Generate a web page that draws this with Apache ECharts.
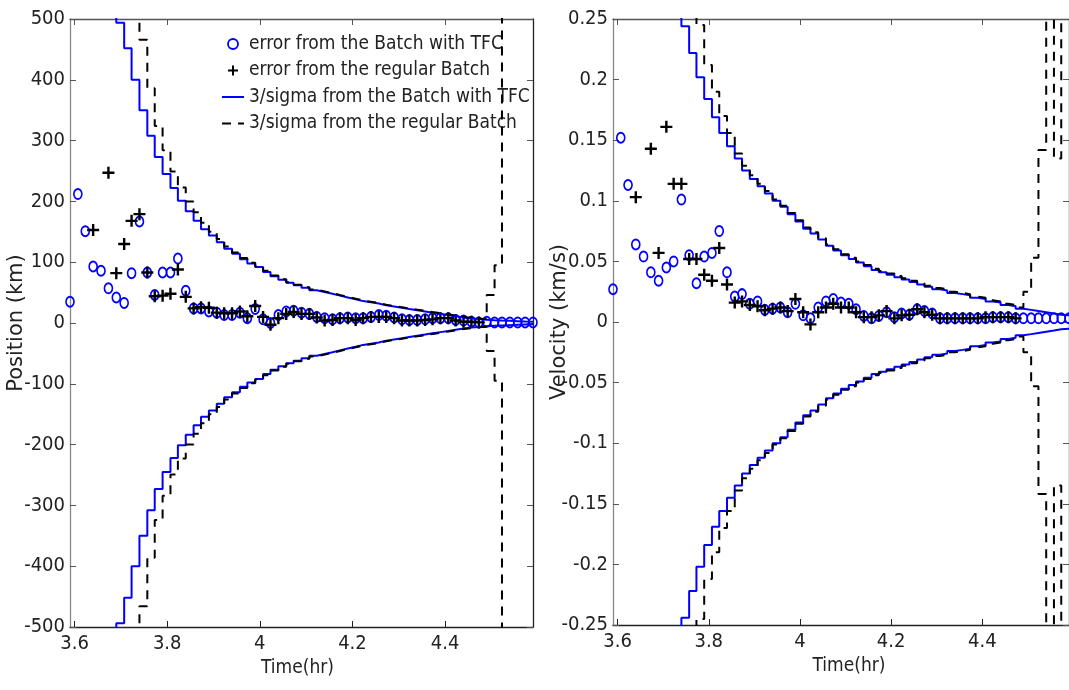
<!DOCTYPE html>
<html><head><meta charset="utf-8">
<script src="https://cdn.jsdelivr.net/npm/echarts@6/dist/echarts.min.js"></script>
<style>html,body{margin:0;padding:0;background:#fff}#c{width:1069px;height:690px}</style>
</head><body><div id="c"></div><script>
// Time (hr), one sample per minute
const time = [3.590,3.607,3.623,3.640,3.657,3.673,3.690,3.707,3.723,3.740,
  3.757,3.773,3.790,3.807,3.823,3.840,3.857,3.873,3.890,3.907,
  3.923,3.940,3.957,3.973,3.990,4.007,4.023,4.040,4.057,4.073,
  4.090,4.107,4.123,4.140,4.157,4.173,4.190,4.207,4.223,4.240,
  4.257,4.273,4.290,4.307,4.323,4.340,4.357,4.373,4.390,4.407,
  4.423,4.440,4.457,4.473,4.490,4.507,4.523,4.540,4.557,4.573,4.590];
const xTicks = [3.6, 3.8, 4.0, 4.2, 4.4];

// Position (km)
const posTFCErr = [35,212,151,93,86,57,42,33,82,167,
  83,46,83,83,106,53,24,24,19,17,
  13,13,17,8,23,6,0,13,19,20,
  17,15,10,8,6,8,9,8,8,10,
  13,12,9,6,5,5,6,8,8,8,
  5,4,2,1,2,1,1,1,1,1,1];
const posRegErr = [null,null,null,153,null,247,82,130,168,179,
  83,44,45,48,88,43,24,26,25,17,
  16,16,19,11,28,10,-3,8,15,18,
  15,15,9,4,5,8,8,5,8,10,
  10,10,8,4,4,4,5,6,8,8,
  4,2,2,1,null,null,null,null,null,null,null];
const posTFCSigma = [null,null,null,null,null,560,494,452,400,350,
  308,273,245,222,201,184,168,154,144,133,
  122,114,105,98,92,84,77,71,66,62,
  58,54,51,48,45,42,39,36,34,32,
  29,27,25,23,21,19,17,15,13,11,
  9,7.5,6.5,5.5,4.5,4,3.5,3,2.5,2.2,2];
const posRegSigma = [null,null,null,null,null,null,null,null,560,466,
  386,324,284,249,223,200,182,165,150,138,
  126,116,107,99,93,86,78,72,67,63,
  59,55,52,49,46,43,40,37,35,33,
  30,28,26,24,22,20,18,16,14,12,
  10,8.5,7,6,46,95,700,700,700,700,700];

// Velocity (km/s)
const velTFCErr = [0.027,0.152,0.113,0.064,0.054,0.041,0.034,0.045,0.050,0.101,
  0.055,0.032,0.054,0.057,0.075,0.041,0.021,0.023,0.015,0.017,
  0.010,0.011,0.012,0.008,0.015,0.0055,0.003,0.012,0.017,0.019,
  0.016,0.015,0.0105,0.005,0.003,0.005,0.008,0.004,0.007,0.006,
  0.0105,0.009,0.007,0.003,0.003,0.003,0.003,0.003,0.003,0.003,
  0.004,0.004,0.004,0.003,0.003,0.003,0.003,0.003,0.003,0.003,0.003];
const velRegErr = [null,null,null,0.103,null,0.143,0.057,0.161,0.114,0.114,
  0.052,0.052,0.039,0.034,0.061,0.031,0.016,0.017,0.014,0.013,
  0.0097,0.011,0.012,0.009,0.019,0.008,-0.002,0.008,0.012,0.015,
  0.012,0.012,0.008,0.004,0.004,0.0055,0.009,0.003,0.0055,0.006,
  0.0105,0.008,0.006,0.003,0.003,0.003,0.003,0.003,0.003,0.004,
  0.004,0.004,0.004,0.003,null,null,null,null,null,null,null];
const velTFCSigma = [null,null,null,null,null,null,null,null,0.27,0.244,
  0.222,0.202,0.184,0.169,0.156,0.145,0.135,0.125,0.118,0.112,
  0.106,0.100,0.095,0.089,0.083,0.077,0.073,0.068,0.063,0.059,
  0.055,0.052,0.049,0.046,0.043,0.041,0.039,0.037,0.035,0.033,
  0.031,0.029,0.027,0.026,0.024,0.023,0.022,0.020,0.019,0.017,
  0.016,0.014,0.013,0.011,0.010,0.009,0.008,0.007,0.006,0.0055,0.005];
const velRegSigma = [null,null,null,null,null,null,null,null,null,null,
  0.30,0.245,0.212,0.190,0.170,0.156,0.139,0.129,0.121,0.114,
  0.108,0.101,0.096,0.090,0.084,0.078,0.074,0.069,0.064,0.060,
  0.056,0.053,0.050,0.047,0.044,0.042,0.040,0.038,0.036,0.034,
  0.032,0.030,0.028,0.027,0.025,0.024,0.023,0.021,0.020,0.018,
  0.017,0.015,0.014,0.012,0.025,0.053,0.142,0.40,0.135,0.40,0.40];

const L1 = 'error from the Batch with TFC';
const L2 = 'error from the regular Batch';
const L3 = '3/sigma from the Batch with TFC';
const L4 = '3/sigma from the regular Batch';

const NARROW = '"Liberation Sans Narrow", "DejaVu Sans Condensed", sans-serif';
const WIDE = '"DejaVu Sans", sans-serif';
const pts = arr => time.map((t, i) => [t, arr[i]]).filter(p => p[1] !== null);
const neg = arr => arr.map(v => v === null ? null : -v);
const PLUS = 'path://M4,0H6V4H10V6H6V10H4V6H0V4H4Z';
const BLUE = '#0000ff';
const CLEAR = 'rgba(0,0,0,0)';

function xAxes(gi, namePad) {
  return [
    {gridIndex: gi, type: 'value', position: 'bottom', min: 3.59, max: 4.59,
     name: 'Time(hr)', nameLocation: 'middle', nameGap: 25,
     nameTextStyle: {fontFamily: NARROW, fontSize: 19, color: '#222', padding: namePad},
     axisLine: {onZero: false, lineStyle: {color: '#222', width: 1.3}},
     axisTick: {inside: true, length: 6, customValues: xTicks, lineStyle: {color: '#222'}},
     axisLabel: {customValues: xTicks, fontFamily: NARROW, fontSize: 20, color: '#222', margin: 7},
     splitLine: {show: false}},
    {gridIndex: gi, type: 'value', position: 'top', min: 3.59, max: 4.59,
     axisLine: {onZero: false, lineStyle: {color: '#555', width: 1.3}},
     axisTick: {inside: true, length: 6, customValues: xTicks, lineStyle: {color: '#555'}},
     axisLabel: {show: false, customValues: xTicks},
     splitLine: {show: false}}
  ];
}
function yAxes(gi, min, max, interval, name, gap) {
  return [
    {gridIndex: gi, type: 'value', position: 'left', min: min, max: max, interval: interval,
     name: name, nameLocation: 'middle', nameGap: gap, nameMoveOverlap: false,
     nameTextStyle: {fontFamily: WIDE, fontSize: 21, color: '#222'},
     axisLine: {show: true, onZero: false, lineStyle: {color: '#888', width: 1.3}},
     axisTick: {show: true, inside: true, length: 6, lineStyle: {color: '#555'}},
     axisLabel: {fontFamily: NARROW, fontSize: 20, color: '#222', margin: 5},
     splitLine: {show: false}},
    {gridIndex: gi, type: 'value', position: 'right', min: min, max: max, interval: interval,
     axisLine: {show: true, onZero: false, lineStyle: {color: '#222', width: 1.3}},
     axisTick: {show: true, inside: true, length: 6, lineStyle: {color: '#555'}},
     axisLabel: {show: false},
     splitLine: {show: false}}
  ];
}
function seriesFor(xi, yi, err1, err2, sig1, sig2) {
  return [
    {type: 'scatter', name: L1, xAxisIndex: xi, yAxisIndex: yi, data: pts(err1),
     symbol: 'circle', symbolSize: [8, 10], z: 2,
     itemStyle: {color: CLEAR, borderColor: BLUE, borderWidth: 1.8, opacity: 1}},
    {type: 'scatter', name: L2, xAxisIndex: xi, yAxisIndex: yi, data: pts(err2),
     symbol: PLUS, symbolSize: 12, z: 3, itemStyle: {color: '#000', opacity: 1}},
    {type: 'line', name: L3, xAxisIndex: xi, yAxisIndex: yi, data: pts(sig1), step: 'end',
     symbol: 'none', z: 4, lineStyle: {color: BLUE, width: 2}, itemStyle: {color: BLUE}},
    {type: 'line', name: L3, xAxisIndex: xi, yAxisIndex: yi, data: pts(neg(sig1)), step: 'end',
     symbol: 'none', z: 4, lineStyle: {color: BLUE, width: 2}, itemStyle: {color: BLUE}},
    {type: 'line', name: L4, xAxisIndex: xi, yAxisIndex: yi, data: pts(sig2), step: 'end',
     symbol: 'none', z: 5, lineStyle: {color: '#000', width: 2, type: [9, 7]}, itemStyle: {color: '#000'}},
    {type: 'line', name: L4, xAxisIndex: xi, yAxisIndex: yi, data: pts(neg(sig2)), step: 'end',
     symbol: 'none', z: 5, lineStyle: {color: '#000', width: 2, type: [9, 7]}, itemStyle: {color: '#000'}}
  ];
}

const chart = echarts.init(document.getElementById('c'), null, {renderer: 'canvas'});
chart.setOption({
  animation: false,
  backgroundColor: '#fff',
  grid: [
    {left: 70, top: 19, width: 463, height: 608},
    {left: 613, top: 19, width: 459, height: 606}
  ],
  xAxis: xAxes(0, [0, 8, 0, 0]).concat(xAxes(1, [0, 0, 0, 16])),
  yAxis: yAxes(0, -500, 500, 100, 'Position (km)', 43).concat(yAxes(1, -0.25, 0.25, 0.05, 'Velocity (km/s)', 43)),
  legend: {
    left: 216, top: 28, orient: 'vertical', itemGap: 4.5, itemWidth: 22, itemHeight: 10,
    selectedMode: false,
    textStyle: {fontFamily: NARROW, fontSize: 19, color: '#222', lineHeight: 22},
    data: [
      {name: L1, icon: 'circle', itemStyle: {color: CLEAR, borderColor: BLUE, borderWidth: 1.8}},
      {name: L2, icon: PLUS, itemStyle: {color: '#000'}},
      {name: L3, itemStyle: {color: CLEAR, borderColor: CLEAR, borderWidth: 0}},
      {name: L4, itemStyle: {color: CLEAR, borderColor: CLEAR, borderWidth: 0}}
    ]
  },
  series: seriesFor(0, 0, posTFCErr, posRegErr, posTFCSigma, posRegSigma)
    .concat(seriesFor(2, 2, velTFCErr, velRegErr, velTFCSigma, velRegSigma))
});
</script></body></html>
